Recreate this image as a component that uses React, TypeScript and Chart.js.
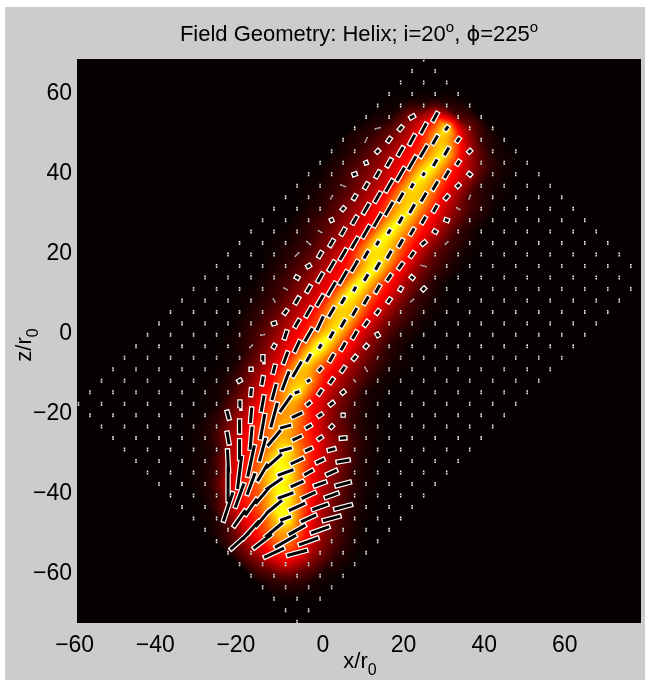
import React, { useEffect, useRef } from "react";
import { Chart, registerables } from "chart.js";

Chart.register(...registerables);

const xTickValues = [-60, -40, -20, 0, 20, 40, 60];
const yTickValues = [-60, -40, -20, 0, 20, 40, 60];

// lattice: row r runs top to bottom, k left to right (same parity as r)
const LATTICE_U = 31;
const LATTICE_V = 20;
const X0 = 24.99;
const Y0 = 68.62;
const X_STEP = 2.854;
const Y_STEP = 2.868;
const LEN_TO_DATA = 0.32;

// [row, first k, values at k, k+2, k+4 ...] : normalised intensity
const intensityRows: number[][] = [
  [4, -2, 0.02, 0.05, 0.05, 0.02],
  [5, -3, 0.03, 0.2, 0.36, 0.1, 0.01],
  [6, -6, 0.02, 0.06, 0.17, 0.36, 0.74, 0.17, 0.02],
  [7, -7, 0.02, 0.06, 0.16, 0.32, 0.62, 0.4, 0.07, 0.01],
  [8, -6, 0.05, 0.15, 0.28, 0.47, 0.7, 0.24, 0.03],
  [9, -7, 0.05, 0.14, 0.26, 0.44, 0.74, 0.36, 0.12, 0.02],
  [10, -8, 0.04, 0.12, 0.22, 0.36, 0.75, 0.45, 0.22, 0.04],
  [11, -9, 0.02, 0.08, 0.19, 0.33, 0.7, 0.52, 0.26, 0.05, 0.01],
  [12, -10, 0.02, 0.07, 0.17, 0.3, 0.62, 0.62, 0.3, 0.09, 0.02],
  [13, -9, 0.05, 0.15, 0.28, 0.5, 0.7, 0.38, 0.17, 0.05],
  [14, -10, 0.05, 0.13, 0.25, 0.4, 0.74, 0.42, 0.22, 0.06],
  [15, -11, 0.03, 0.1, 0.22, 0.36, 0.77, 0.48, 0.26, 0.07],
  [16, -12, 0.02, 0.07, 0.19, 0.35, 0.74, 0.52, 0.28, 0.1, 0.02],
  [17, -13, 0.02, 0.07, 0.17, 0.32, 0.64, 0.64, 0.33, 0.12, 0.03],
  [18, -12, 0.05, 0.14, 0.28, 0.47, 0.74, 0.38, 0.16, 0.05],
  [19, -13, 0.05, 0.13, 0.26, 0.4, 0.76, 0.42, 0.2, 0.05],
  [20, -14, 0.03, 0.1, 0.23, 0.38, 0.78, 0.46, 0.24, 0.07],
  [21, -15, 0.02, 0.08, 0.21, 0.35, 0.72, 0.52, 0.28, 0.09, 0.02],
  [22, -16, 0.01, 0.07, 0.18, 0.33, 0.62, 0.62, 0.3, 0.12, 0.03],
  [23, -15, 0.05, 0.15, 0.3, 0.5, 0.7, 0.33, 0.14, 0.04],
  [24, -16, 0.03, 0.12, 0.27, 0.45, 0.74, 0.37, 0.17, 0.04],
  [25, -17, 0.01, 0.08, 0.23, 0.4, 0.8, 0.42, 0.2, 0.05],
  [26, -16, 0.03, 0.17, 0.36, 0.74, 0.45, 0.24, 0.09, 0.02],
  [27, -17, 0.02, 0.15, 0.33, 0.64, 0.47, 0.27, 0.11, 0.02],
  [28, -18, 0.01, 0.09, 0.28, 0.54, 0.62, 0.3, 0.14, 0.03],
  [29, -19, 0.01, 0.05, 0.22, 0.45, 0.74, 0.35, 0.17, 0.03],
  [30, -18, 0.02, 0.17, 0.38, 0.6, 0.4, 0.2, 0.07, 0.01],
  [31, -19, 0.01, 0.12, 0.31, 0.52, 0.57, 0.3, 0.12, 0.02],
  [32, -20, 0.01, 0.07, 0.26, 0.47, 0.64, 0.4, 0.17, 0.05, 0.01],
  [33, -19, 0.03, 0.2, 0.4, 0.57, 0.52, 0.3, 0.15, 0.03],
  [34, -20, 0.01, 0.05, 0.32, 0.47, 0.74, 0.45, 0.22, 0.07, 0.01],
  [35, -19, 0.02, 0.24, 0.42, 0.72, 0.57, 0.3, 0.15, 0.02],
  [36, -20, 0.01, 0.07, 0.36, 0.57, 0.77, 0.4, 0.2, 0.05],
  [37, -19, 0.03, 0.28, 0.45, 0.72, 0.57, 0.28, 0.12, 0.02],
  [38, -18, 0.07, 0.36, 0.52, 0.77, 0.4, 0.17, 0.04],
  [39, -19, 0.01, 0.22, 0.42, 0.7, 0.57, 0.26, 0.1, 0.01],
  [40, -18, 0.03, 0.28, 0.47, 0.78, 0.36, 0.15, 0.03],
  [41, -19, 0.01, 0.09, 0.35, 0.58, 0.52, 0.24, 0.07],
  [42, -18, 0.02, 0.17, 0.39, 0.57, 0.31, 0.12, 0.02],
  [43, -17, 0.02, 0.2, 0.4, 0.39, 0.17, 0.04],
  [44, -16, 0.03, 0.17, 0.3, 0.17, 0.04],
  [45, -15, 0.02, 0.09, 0.1, 0.03],
  [46, -14, 0.01, 0.04, 0.02],
];

// [row, k, length, angle in degrees] : outlined vectors
const boxVectors: number[][] = [
  [5,-1,3,30],[5,1,7,62],
  [6,-2,3,50],[6,0,8,62],[6,2,3,55],
  [7,-3,3,55],[7,-1,8,62],[7,1,7,60],[7,3,3,55],
  [8,-4,2,45],[8,-2,7,60],[8,0,10,60],[8,2,6,60],[8,4,2,45],
  [9,-5,1,20],[9,-3,6,60],[9,-1,11,60],[9,1,5,60],[9,3,3,55],
  [10,-6,2,20],[10,-4,5,60],[10,-2,11,60],[10,0,2,60],[10,2,6,60],[10,4,2,140],
  [11,-5,4,60],[11,-3,10,60],[11,-1,3,60],[11,1,7,60],[11,3,2,45],
  [12,-6,3,60],[12,-4,8,60],[12,-2,7,60],[12,0,7,60],[12,2,3,50],
  [13,-7,2,50],[13,-5,8,60],[13,-3,11,60],[13,-1,7,60],[13,1,5,60],
  [14,-8,1,25],[14,-6,6,60],[14,-4,11,60],[14,-2,5,60],[14,0,5,60],[14,2,2,160],
  [15,-7,5,60],[15,-5,10,60],[15,-3,3,60],[15,-1,5,60],[15,1,2,150],
  [16,-8,5,60],[16,-6,9,60],[16,-4,3,60],[16,-2,6,60],[16,0,3,40],
  [17,-9,4,60],[17,-7,9,60],[17,-5,6,60],[17,-3,6,60],[17,-1,4,55],
  [18,-10,2,30],[18,-8,8,60],[18,-6,9,60],[18,-4,6,60],[18,-2,5,55],
  [19,-11,2,150],[19,-9,7,60],[19,-7,11,60],[19,-5,5,60],[19,-3,5,55],[19,-1,2,140],
  [20,-10,5,60],[20,-8,11,60],[20,-6,3,60],[20,-4,6,60],[20,-2,2,60],[20,0,2,45],
  [21,-11,5,60],[21,-9,9,60],[21,-7,5,60],[21,-5,6,60],[21,-3,3,55],
  [22,-12,3,55],[22,-10,8,60],[22,-8,8,60],[22,-6,6,60],[22,-4,3,55],
  [23,-13,2,20],[23,-11,6,60],[23,-9,11,65],[23,-7,6,60],[23,-5,4,55],
  [24,-12,6,72],[24,-10,11,60],[24,-8,5,60],[24,-6,6,60],[24,-4,2,120],
  [25,-13,2,60],[25,-11,9,65],[25,-9,3,60],[25,-7,6,60],[25,-5,2,50],
  [26,-14,3,85],[26,-12,9,70],[26,-10,6,60],[26,-8,6,60],[26,-6,3,50],
  [27,-15,1,0],[27,-13,6,75],[27,-11,13,60],[27,-9,3,50],[27,-7,4,55],
  [28,-16,2,30],[28,-14,6,80],[28,-12,15,70],[28,-10,2,30],[28,-8,4,55],
  [29,-15,5,85],[29,-13,12,75],[29,-11,3,20],[29,-9,4,55],[29,-7,2,40],
  [30,-16,4,85],[30,-14,12,80],[30,-12,15,55],[30,-10,3,40],[30,-8,3,40],
  [31,-17,6,105],[31,-15,11,85],[31,-13,19,75],[31,-11,8,25],[31,-9,3,35],[31,-7,1,90],
  [32,-16,10,90],[32,-14,19,80],[32,-12,8,15],[32,-10,4,30],[32,-8,2,45],
  [33,-17,9,100],[33,-15,17,85],[33,-13,15,50],[33,-11,7,25],[33,-9,3,35],[33,-7,4,5],
  [34,-16,15,90],[34,-14,18,75],[34,-12,9,15],[34,-10,5,25],[34,-8,5,15],
  [35,-17,17,93],[35,-15,24,78],[35,-13,15,42],[35,-11,10,25],[35,-9,6,25],[35,-7,9,10],
  [36,-16,25,83],[36,-14,15,60],[36,-12,12,20],[36,-10,7,30],[36,-8,8,25],
  [37,-17,27,90],[37,-15,17,70],[37,-13,15,35],[37,-11,10,25],[37,-9,9,20],[37,-7,11,15],
  [38,-16,19,70],[38,-14,16,50],[38,-12,12,20],[38,-10,11,25],[38,-8,10,20],
  [39,-17,23,72],[39,-15,15,55],[39,-13,15,40],[39,-11,13,25],[39,-9,12,20],[39,-7,13,15],
  [40,-16,15,55],[40,-14,16,50],[40,-12,8,20],[40,-10,12,25],[40,-8,13,15],
  [41,-15,18,48],[41,-13,17,40],[41,-11,14,30],[41,-9,14,20],
  [42,-16,18,42],[42,-14,17,38],[42,-12,18,30],[42,-10,15,20],
  [43,-13,16,25],[43,-11,15,15],
];

// [row, k, length, angle in degrees] : hairline vectors at the faint edge
const thinVectors: number[][] = [
  [6,-4,4,15],[7,-5,4,65],[11,-7,4,160],[12,-8,3,60],[12,4,3,70],[13,3,3,150],
  [15,-9,3,150],[16,-10,4,140],[16,2,3,45],[17,-11,4,45],[18,0,4,165],
  [20,-12,3,150],[21,-13,3,120],[21,-1,3,45],[24,-14,3,10],[25,-15,3,45],
  [26,-4,2,70],[27,-5,4,120],[28,-6,2,130],
];

const FONT = '"Liberation Sans", Arial, sans-serif';

function clamp01(v: number) {
  return Math.max(0, Math.min(1, v));
}

function buildGrid() {
  const grid: number[][] = [];
  for (let u = 0; u < LATTICE_U; u++) grid.push(new Array(LATTICE_V).fill(0));
  for (const row of intensityRows) {
    const r = row[0];
    for (let i = 2; i < row.length; i++) {
      const k = row[1] + (i - 2) * 2;
      const u = (r - k) / 2;
      const v = (r + k) / 2;
      if (u >= 0 && u < LATTICE_U && v >= 0 && v < LATTICE_V) grid[u][v] = row[i];
    }
  }
  return grid;
}

function latticeX(k: number) {
  return X0 + X_STEP * k;
}
function latticeY(r: number) {
  return Y0 - Y_STEP * r;
}

type Pt = { x: number; y: number };

function segments(list: number[][], extra: number): Pt[] {
  const out: Pt[] = [];
  for (const [r, k, len, ang] of list) {
    const half = (len * LEN_TO_DATA + extra) / 2;
    const a = (ang * Math.PI) / 180;
    const cx = latticeX(k);
    const cy = latticeY(r);
    out.push({ x: cx - half * Math.cos(a), y: cy - half * Math.sin(a) });
    out.push({ x: cx + half * Math.cos(a), y: cy + half * Math.sin(a) });
    out.push({ x: NaN, y: NaN });
  }
  return out;
}

function dotList(): number[][] {
  const used = new Set<string>();
  for (const v of boxVectors) used.add(v[0] + ":" + v[1]);
  for (const v of thinVectors) used.add(v[0] + ":" + v[1]);
  const out: number[][] = [];
  for (let u = 0; u < LATTICE_U; u++) {
    for (let v = 0; v < LATTICE_V; v++) {
      const r = u + v;
      const k = v - u;
      if (!used.has(r + ":" + k)) out.push([r, k, 0, 90]);
    }
  }
  return out;
}

const heatPlugin = {
  id: "heat",
  beforeDatasetsDraw(chart: any) {
    const { ctx, chartArea: a, scales } = chart;
    const grid = buildGrid();
    const w = Math.round(a.right - a.left);
    const h = Math.round(a.bottom - a.top);
    const off = document.createElement("canvas");
    off.width = w;
    off.height = h;
    const oc = off.getContext("2d")!;
    const img = oc.createImageData(w, h);
    for (let py = 0; py < h; py++) {
      const yVal = scales.y.getValueForPixel(a.top + py + 0.5);
      for (let px = 0; px < w; px++) {
        const xVal = scales.x.getValueForPixel(a.left + px + 0.5);
        const k = (xVal - X0) / X_STEP;
        const r = (Y0 - yVal) / Y_STEP;
        const u = (r - k) / 2;
        const v = (r + k) / 2;
        let t = 0;
        if (u >= 0 && v >= 0 && u < LATTICE_U - 1 && v < LATTICE_V - 1) {
          const u0 = Math.floor(u);
          const v0 = Math.floor(v);
          const fu = u - u0;
          const fv = v - v0;
          t =
            grid[u0][v0] * (1 - fu) * (1 - fv) +
            grid[u0 + 1][v0] * fu * (1 - fv) +
            grid[u0][v0 + 1] * (1 - fu) * fv +
            grid[u0 + 1][v0 + 1] * fu * fv;
        }
        const i = (py * w + px) * 4;
        img.data[i] = 255 * clamp01((t + 0.008) / 0.365);
        img.data[i + 1] = 255 * clamp01((t - 0.365) / 0.365);
        img.data[i + 2] = 255 * clamp01((t - 0.73) / 0.27);
        img.data[i + 3] = 255;
      }
    }
    oc.putImageData(img, 0, 0);
    ctx.drawImage(off, a.left, a.top);
  },
};

function drawRuns(
  ctx: CanvasRenderingContext2D,
  runs: { text: string; size: number; dy: number; family?: string }[],
  cx: number,
  cy: number,
  rotate: number
) {
  ctx.save();
  ctx.translate(cx, cy);
  ctx.rotate(rotate);
  ctx.fillStyle = "#000";
  ctx.textAlign = "left";
  ctx.textBaseline = "alphabetic";
  let total = 0;
  for (const run of runs) {
    ctx.font = `${run.size}px ${run.family || FONT}`;
    total += ctx.measureText(run.text).width;
  }
  let x = -total / 2;
  for (const run of runs) {
    ctx.font = `${run.size}px ${run.family || FONT}`;
    ctx.fillText(run.text, x, run.dy);
    x += ctx.measureText(run.text).width;
  }
  ctx.restore();
}

const framePlugin = {
  id: "frame",
  beforeDraw(chart: any) {
    const { ctx } = chart;
    ctx.save();
    ctx.fillStyle = "#cccccc";
    ctx.fillRect(5, 7, 640, 673);
    ctx.restore();
  },
  afterDraw(chart: any) {
    const { ctx } = chart;
    drawRuns(
      ctx,
      [
        { text: "Field Geometry: Helix; i=20", size: 22, dy: 0 },
        { text: "o", size: 15, dy: -9 },
        { text: ", ", size: 22, dy: 0 },
        { text: "\u03D5", size: 21, dy: 0, family: '"DejaVu Sans"' },
        { text: "=225", size: 22, dy: 0 },
        { text: "o", size: 15, dy: -9 },
      ],
      359,
      41,
      0
    );
    drawRuns(
      ctx,
      [
        { text: "x/r", size: 22, dy: 0 },
        { text: "0", size: 16, dy: 7 },
      ],
      360,
      668,
      0
    );
    drawRuns(
      ctx,
      [
        { text: "z/r", size: 22, dy: 0 },
        { text: "0", size: 16, dy: 7 },
      ],
      31,
      345,
      -Math.PI / 2
    );
  },
};

export default function App() {
  const ref = useRef<HTMLCanvasElement | null>(null);
  useEffect(() => {
    if (!ref.current) return;
    const dots = dotList();
    const line = (label: string, data: Pt[], color: string, width: number, order: number) => ({
      label,
      data,
      borderColor: color,
      borderWidth: width,
      borderCapStyle: "butt",
      pointRadius: 0,
      tension: 0,
      fill: false,
      spanGaps: false,
      order,
    });
    const chart = new Chart(ref.current, {
      type: "line",
      data: {
        datasets: [
          line("dots outline", segments(dots, 1.0), "#f4f4f4", 1.5, 6),
          line("dots core", segments(dots, 0.22), "#222222", 1.5, 5),
          line("thin outline", segments(thinVectors, 0.3), "#d8d8d8", 1.4, 4),
          line("thin core", segments(thinVectors, -0.2), "#444444", 0.6, 3),
          line("vector outline", segments(boxVectors, 1.0), "#ffffff", 5.4, 2),
          line("vector core", segments(boxVectors, 0.3), "#000000", 3.0, 1),
        ] as any,
      },
      plugins: [framePlugin, heatPlugin],
      options: {
        animation: false,
        responsive: false,
        layout: { padding: { left: 0, right: 4, top: 59, bottom: 0 } },
        plugins: { legend: { display: false }, tooltip: { enabled: false }, title: { display: false } },
        scales: {
          x: {
            type: "linear",
            min: -61,
            max: 78.9,
            grid: { display: false, drawTicks: false },
            border: { display: false },
            afterBuildTicks: (s: any) => {
              s.ticks = xTickValues.map((value) => ({ value }));
            },
            afterFit: (s: any) => {
              s.height = 57;
            },
            ticks: {
              autoSkip: false,
              maxRotation: 0,
              minRotation: 0,
              padding: 9,
              color: "#000",
              font: { family: FONT, size: 23 },
              callback: (v: any) => (v < 0 ? `\u2212${-v}\u00A0\u00A0` : `${v}`),
            },
          },
          y: {
            type: "linear",
            min: -72.25,
            max: 68.75,
            grid: { display: false, drawTicks: false },
            border: { display: false },
            afterBuildTicks: (s: any) => {
              s.ticks = yTickValues.map((value) => ({ value }));
            },
            afterFit: (s: any) => {
              s.width = 77;
            },
            ticks: {
              autoSkip: false,
              padding: 5,
              color: "#000",
              font: { family: FONT, size: 23 },
              callback: (v: any) => (v < 0 ? `\u2212${-v}` : `${v}`),
            },
          },
        },
      } as any,
    });
    return () => chart.destroy();
  }, []);
  return (
    <div style={{ position: "absolute", left: 0, top: 0, width: 645, height: 680 }}>
      <canvas ref={ref} width={645} height={680} style={{ display: "block", width: 645, height: 680 }} />
    </div>
  );
}
